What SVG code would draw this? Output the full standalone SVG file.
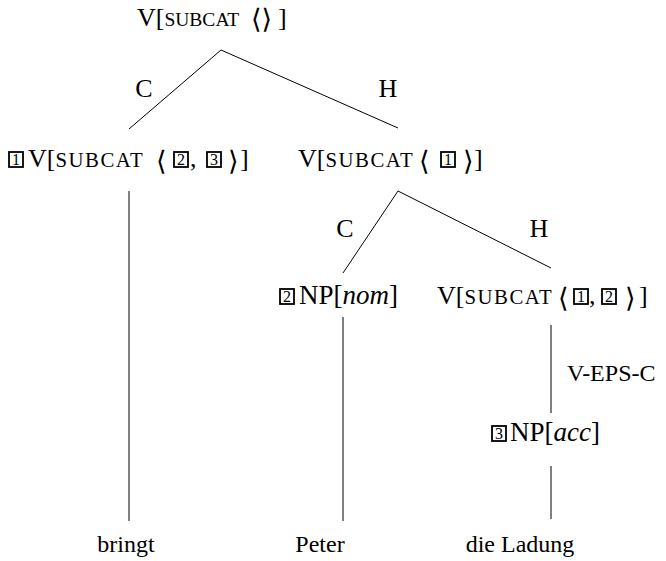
<svg xmlns="http://www.w3.org/2000/svg" width="666" height="561" viewBox="0 0 666 561">
<style>
text{font-family:"Liberation Serif","Times New Roman",serif;font-size:24px;fill:#000}
.lb{font-size:26px}
.sc{font-size:20.8px;letter-spacing:1.5px}
.sct{font-size:19.5px}
.br{font-family:"DejaVu Sans",sans-serif;font-size:27px}
.brs{font-family:"DejaVu Sans",sans-serif;font-size:27px}
.num{font-size:16px;text-anchor:middle}
.box{fill:none;stroke:#000;stroke-width:1.8}
.it{font-style:italic}
.np{font-size:27px}
line{stroke:#000;stroke-width:1}
</style>
<g id="connectors">
<line x1="221" y1="50" x2="129" y2="129"/>
<line x1="221" y1="50" x2="398" y2="128"/>
<line x1="129" y1="191" x2="129" y2="521"/>
<line x1="398" y1="191" x2="343" y2="273"/>
<line x1="398" y1="191" x2="551" y2="268"/>
<line x1="343" y1="317" x2="343" y2="521"/>
<line x1="551" y1="325" x2="551" y2="413"/>
<line x1="551" y1="466" x2="551" y2="519"/>
<text class="lb" x="144" y="97" text-anchor="middle">C</text>
<text class="lb" x="388" y="97" text-anchor="middle">H</text>
<text class="lb" x="345" y="237" text-anchor="middle">C</text>
<text class="lb" x="539" y="237" text-anchor="middle">H</text>
<text x="567" y="381" font-size="25">V-EPS-C</text>
</g>
<g id="root">
<text class="lb" x="137" y="26">V[<tspan class="sct">SUBCAT</tspan></text>
<text class="brs" x="251" y="28">⟨⟩</text>
<text class="lb" x="278" y="26">]</text>
</g>
<g id="n1">
<rect class="box" x="9" y="152" width="14" height="15"/>
<text class="num" x="16" y="165">1</text>
<text class="lb" x="28" y="167">V[<tspan class="sc">SUBCAT</tspan></text>
<text class="br" x="156" y="170">⟨</text>
<rect class="box" x="174" y="152" width="14" height="15"/>
<text class="num" x="181" y="165">2</text>
<text class="lb" x="190" y="167">,</text>
<rect class="box" x="207" y="152" width="14" height="15"/>
<text class="num" x="214" y="165">3</text>
<text class="br" x="228" y="170">⟩</text>
<text class="lb" x="240" y="167">]</text>
</g>
<g id="n2">
<text class="lb" x="298" y="167">V[<tspan class="sc">SUBCAT</tspan></text>
<text class="br" x="419" y="170">⟨</text>
<rect class="box" x="441" y="152" width="14" height="15"/>
<text class="num" x="448" y="165">1</text>
<text class="br" x="463" y="170">⟩</text>
<text class="lb" x="474" y="167">]</text>
</g>
<g id="n3">
<rect class="box" x="280" y="289" width="14" height="15"/>
<text class="num" x="287" y="302">2</text>
<text class="np" x="299" y="304">NP[<tspan class="it">nom</tspan>]</text>
</g>
<g id="n4">
<text class="lb" x="437" y="304">V[<tspan class="sc">SUBCAT</tspan></text>
<text class="br" x="558" y="307">⟨</text>
<rect class="box" x="574" y="289" width="14" height="15"/>
<text class="num" x="581" y="302">1</text>
<text class="lb" x="589" y="304">,</text>
<rect class="box" x="602" y="289" width="14" height="15"/>
<text class="num" x="609" y="302">2</text>
<text class="br" x="625" y="307">⟩</text>
<text class="lb" x="639" y="304">]</text>
</g>
<g id="n5">
<rect class="box" x="492" y="426" width="14" height="15"/>
<text class="num" x="499" y="439">3</text>
<text class="np" x="510" y="441">NP[<tspan class="it">acc</tspan>]</text>
</g>
<g id="w1"><text x="126" y="552" text-anchor="middle">bringt</text></g>
<g id="w2"><text x="320" y="552" text-anchor="middle">Peter</text></g>
<g id="w3"><text x="520" y="552" text-anchor="middle">die Ladung</text></g>
</svg>
